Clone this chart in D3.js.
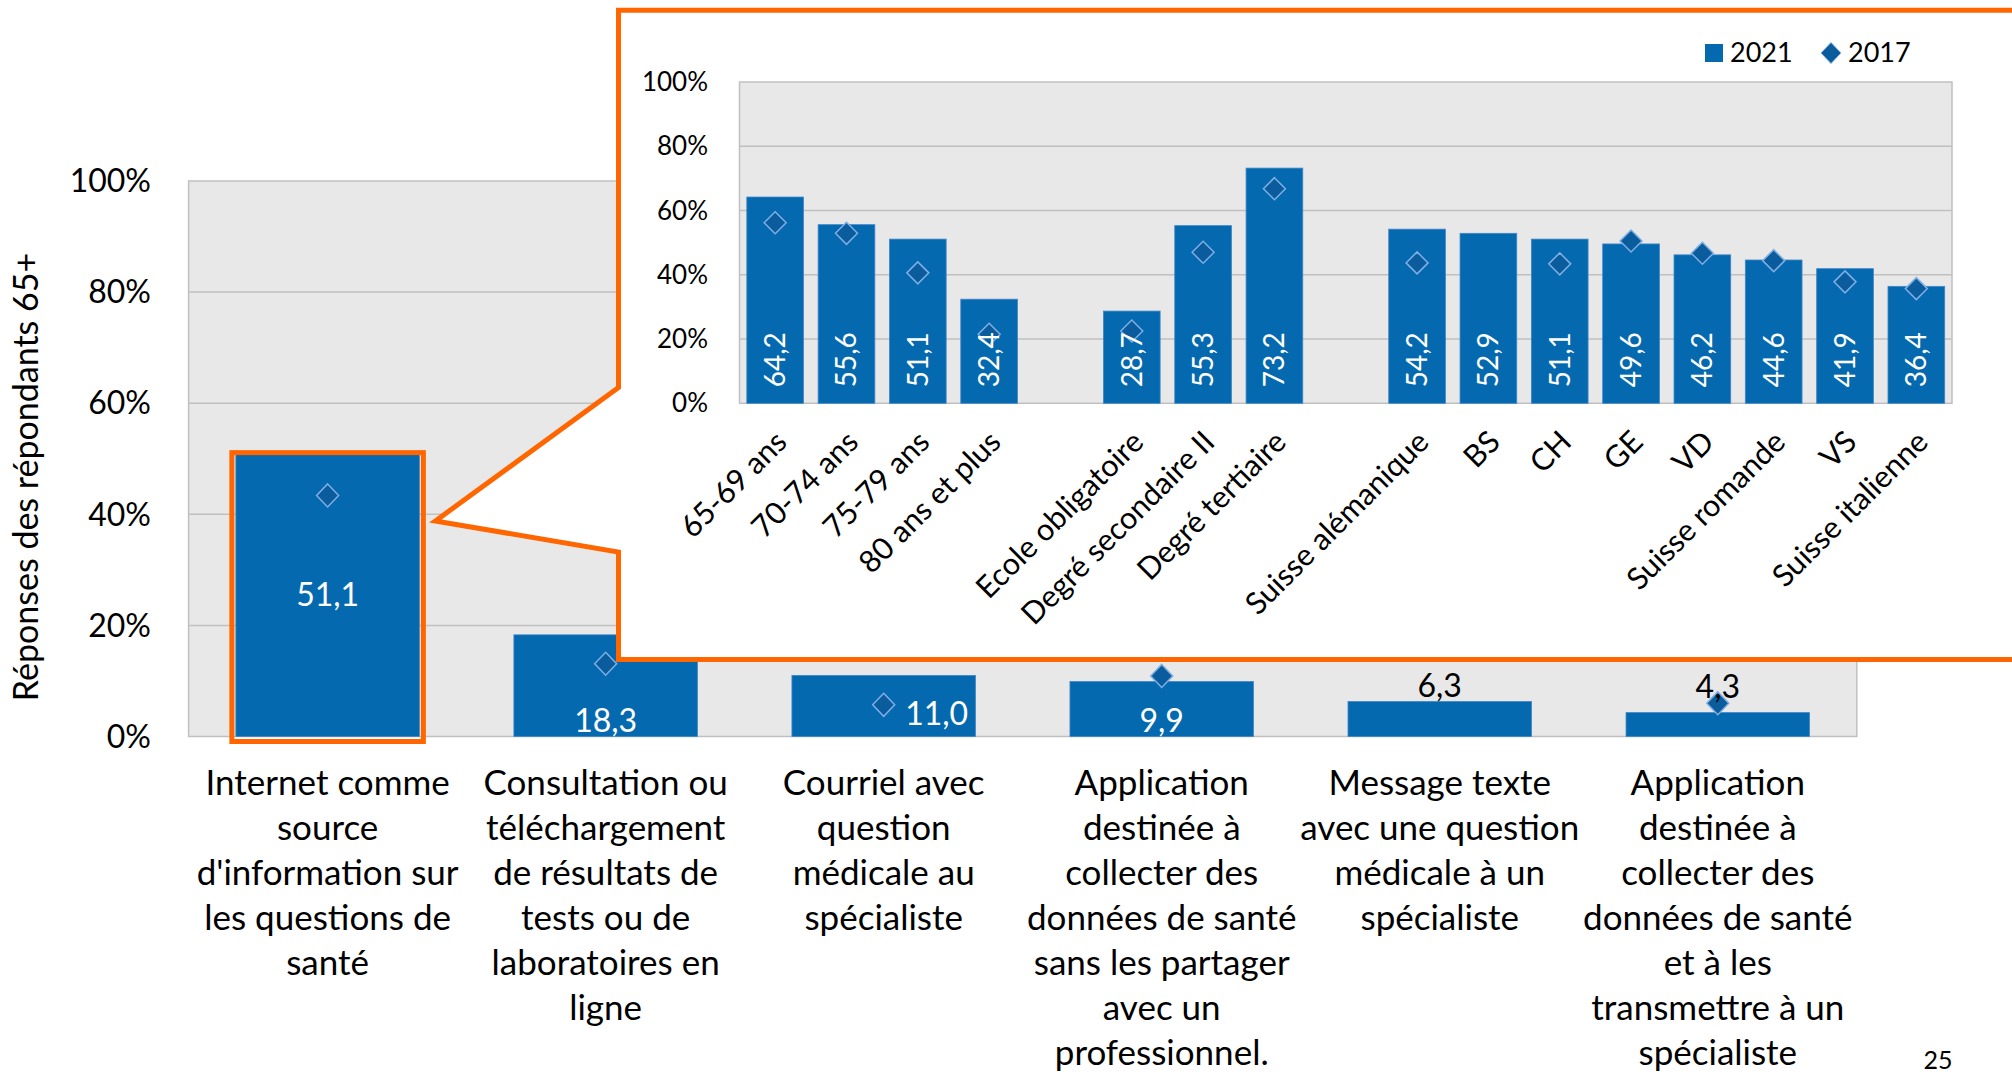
<!DOCTYPE html>
<html>
<head>
<meta charset="utf-8">
<script src="https://cdn.jsdelivr.net/npm/d3@7"></script>
<style>
  html, body { margin: 0; padding: 0; background: #ffffff; }
  svg { display: block; font-family: Lato, "Open Sans", sans-serif; }
</style>
</head>
<body>
<div id="chart"></div>
<script>
// main chart data (respondents 65+)
const mainCategories = [
  ["Internet comme", "source", "d'information sur", "les questions de", "santé"],
  ["Consultation ou", "téléchargement", "de résultats de", "tests ou de", "laboratoires en", "ligne"],
  ["Courriel avec", "question", "médicale au", "spécialiste"],
  ["Application", "destinée à", "collecter des", "données de santé", "sans les partager", "avec un", "professionnel."],
  ["Message texte", "avec une question", "médicale à un", "spécialiste"],
  ["Application", "destinée à", "collecter des", "données de santé", "et à les", "transmettre à un", "spécialiste"]
];
const mainValues2021 = [51.1, 18.3, 11.0, 9.9, 6.3, 4.3];
const mainValues2017 = [43.4, 13.1, 5.7, 10.9, null, 6.0];
const mainLabelPlacement = ["middle", "base", "right", "base", "above", "above"];
const percentTicks = [0, 20, 40, 60, 80, 100];

// inset chart data (Internet comme source d'information, by group)
const insetCategories = ["65-69 ans", "70-74 ans", "75-79 ans", "80 ans et plus",
  "Ecole obligatoire", "Degré secondaire II", "Degré tertiaire",
  "Suisse alémanique", "BS", "CH", "GE", "VD", "Suisse romande", "VS", "Suisse italienne"];
const insetValues2021 = [64.2, 55.6, 51.1, 32.4, 28.7, 55.3, 73.2, 54.2, 52.9, 51.1, 49.6, 46.2, 44.6, 41.9, 36.4];
const insetValues2017 = [56.2, 52.9, 40.6, 21.5, 22.5, 47.0, 66.8, 43.7, null, 43.4, 50.5, 46.7, 44.4, 37.8, 35.7];
const insetGroupStarts = [4, 7]; // an empty slot goes before these categories
const legendSeries = ["2021", "2017"];

const width = 2012, height = 1075;
const BLUE = "#0569b0", BAR_EDGE = "#3f86c8";
const DIAMOND = "#0b5c9c", DIAMOND_EDGE = "#7eaee4";
const ORANGE = "#ff6600", PLOT_BG = "#e8e8e8", GRID = "#c0c0c0";

const fmt = v => d3.format(".1f")(v).replace(".", ",");
const diamond = (w, h) => `M0,${-h}L${w},0L0,${h}L${-w},0Z`;

const svg = d3.select("#chart").append("svg")
  .attr("width", width)
  .attr("height", height);

// ---------- main chart ----------
const mx = d3.scaleBand().domain(d3.range(mainValues2021.length))
  .range([188.6, 1856.8]).paddingInner(0.34).paddingOuter(0.17);
const my = d3.scaleLinear().domain([0, 100]).range([736.5, 181]);

const main = svg.append("g");

main.append("rect")
  .attr("x", mx.range()[0]).attr("y", my(100))
  .attr("width", mx.range()[1] - mx.range()[0]).attr("height", my(0) - my(100))
  .attr("fill", PLOT_BG).attr("stroke", GRID).attr("stroke-width", 1.5);

main.append("g").selectAll("line")
  .data(percentTicks.slice(1, -1))
  .join("line")
  .attr("x1", mx.range()[0]).attr("x2", mx.range()[1])
  .attr("y1", d => my(d)).attr("y2", d => my(d))
  .attr("stroke", GRID).attr("stroke-width", 1.5);

// y axis labels
main.append("g").selectAll("text")
  .data(percentTicks)
  .join("text")
  .attr("x", 151).attr("y", d => my(d)).attr("dy", "0.35em")
  .attr("text-anchor", "end")
  .style("font-size", "32px")
  .text(d => d + "%");

main.append("text")
  .attr("transform", "translate(26,477) rotate(-90)")
  .attr("dy", "0.35em")
  .attr("text-anchor", "middle")
  .style("font-size", "34px")
  .text("Réponses des répondants 65+");

// bars
main.append("g").selectAll("rect")
  .data(mainValues2021)
  .join("rect")
  .attr("x", (d, i) => mx(i)).attr("width", mx.bandwidth())
  .attr("y", d => my(d)).attr("height", d => my(0) - my(d))
  .attr("fill", BLUE).attr("stroke", BAR_EDGE).attr("stroke-width", 0.8);

// 2017 markers
main.append("g").selectAll("path")
  .data(mainValues2017.map((v, i) => ({ v, i })).filter(d => d.v != null))
  .join("path")
  .attr("d", diamond(11, 11.5))
  .attr("transform", d => `translate(${mx(d.i) + mx.bandwidth() / 2},${my(d.v)})`)
  .attr("fill", DIAMOND).attr("stroke", DIAMOND_EDGE).attr("stroke-width", 1.5);

// value labels
main.append("g").selectAll("text")
  .data(mainValues2021)
  .join("text")
  .attr("x", (d, i) => {
    const cx = mx(i) + mx.bandwidth() / 2;
    return mainLabelPlacement[i] === "right" ? cx + 53 : cx;
  })
  .attr("y", (d, i) => {
    const p = mainLabelPlacement[i];
    if (p === "middle") return my(d / 2);
    if (p === "above") {
      const top = mainValues2017[i] != null ? Math.min(my(d), my(mainValues2017[i])) : my(d);
      return top - 16;
    }
    return my(0) - (p === "right" ? 23 : 16);
  })
  .attr("dy", "0.35em")
  .attr("text-anchor", "middle")
  .attr("fill", (d, i) => mainLabelPlacement[i] === "above" ? "#000" : "#fff")
  .style("font-size", "32px")
  .text(fmt);

// category labels (multi-line)
const catLabels = main.append("g").selectAll("text")
  .data(mainCategories)
  .join("text")
  .attr("text-anchor", "middle")
  .style("font-size", "35px");
catLabels.selectAll("tspan")
  .data((lines, i) => lines.map(l => ({ l, i })))
  .join("tspan")
  .attr("x", d => mx(d.i) + mx.bandwidth() / 2)
  .attr("y", (d, k) => 783 + k * 45)
  .attr("dy", "0.35em")
  .text(d => d.l);

// highlight of the first bar
main.append("rect")
  .attr("x", mx(0) - 4).attr("y", my(mainValues2021[0]))
  .attr("width", mx.bandwidth() + 8).attr("height", my(0) - my(mainValues2021[0]) + 5)
  .attr("fill", "none").attr("stroke", ORANGE).attr("stroke-width", 5);

// ---------- callout ----------
const box = { left: 618.5, top: 10.3, right: 2040, bottom: 659.6 };
const tip = [mx(0) + mx.bandwidth() + 16, 521];
svg.append("path")
  .attr("d", `M${box.left},${box.top}L${box.right},${box.top}L${box.right},${box.bottom}` +
    `L${box.left},${box.bottom}L${box.left},552L${tip[0]},${tip[1]}L${box.left},387.5Z`)
  .attr("fill", "#fff").attr("stroke", ORANGE).attr("stroke-width", 5)
  .attr("stroke-linejoin", "miter");

// ---------- inset chart ----------
const insetDomain = [];
insetCategories.forEach((c, i) => {
  if (insetGroupStarts.includes(i)) insetDomain.push("gap" + i);
  insetDomain.push(c);
});
const ix = d3.scaleBand().domain(insetDomain)
  .range([739.5, 1952]).paddingInner(0.205).paddingOuter(0.1025);
const iy = d3.scaleLinear().domain([0, 100]).range([403.3, 82]);
const icx = c => ix(c) + ix.bandwidth() / 2;

const inset = svg.append("g");

inset.append("rect")
  .attr("x", ix.range()[0]).attr("y", iy(100))
  .attr("width", ix.range()[1] - ix.range()[0]).attr("height", iy(0) - iy(100))
  .attr("fill", PLOT_BG).attr("stroke", GRID).attr("stroke-width", 1.5);

inset.append("g").selectAll("line")
  .data(percentTicks.slice(1, -1))
  .join("line")
  .attr("x1", ix.range()[0]).attr("x2", ix.range()[1])
  .attr("y1", d => iy(d)).attr("y2", d => iy(d))
  .attr("stroke", GRID).attr("stroke-width", 1.5);

inset.append("g").selectAll("text")
  .data(percentTicks)
  .join("text")
  .attr("x", 708).attr("y", d => iy(d)).attr("dy", "0.35em")
  .attr("text-anchor", "end")
  .style("font-size", "26px")
  .text(d => d + "%");

inset.append("g").selectAll("rect")
  .data(insetValues2021)
  .join("rect")
  .attr("x", (d, i) => ix(insetCategories[i])).attr("width", ix.bandwidth())
  .attr("y", d => iy(d)).attr("height", d => iy(0) - iy(d))
  .attr("fill", BLUE).attr("stroke", BAR_EDGE).attr("stroke-width", 0.8);

inset.append("g").selectAll("path")
  .data(insetValues2017.map((v, i) => ({ v, i })).filter(d => d.v != null))
  .join("path")
  .attr("d", diamond(11, 11))
  .attr("transform", d => `translate(${icx(insetCategories[d.i])},${iy(d.v)})`)
  .attr("fill", DIAMOND).attr("stroke", DIAMOND_EDGE).attr("stroke-width", 1.5);

inset.append("g").selectAll("text")
  .data(insetValues2021)
  .join("text")
  .attr("transform", (d, i) => `translate(${icx(insetCategories[i])},${iy(0) - 16}) rotate(-90)`)
  .attr("dy", "0.35em")
  .attr("fill", "#fff")
  .style("font-size", "28px")
  .text(fmt);

inset.append("g").selectAll("text")
  .data(insetCategories)
  .join("text")
  .attr("transform", d => `translate(${icx(d) + 6},${iy(0) + 33}) rotate(-45)`)
  .attr("dy", "0.35em")
  .attr("text-anchor", "end")
  .style("font-size", "30.5px")
  .text(d => d);

// legend
const legend = inset.append("g").attr("transform", "translate(1705,53)");
legend.append("rect")
  .attr("x", 0).attr("y", -9).attr("width", 18).attr("height", 18)
  .attr("fill", BLUE);
legend.append("text")
  .attr("x", 25).attr("dy", "0.35em")
  .style("font-size", "27px")
  .text(legendSeries[0]);
legend.append("path")
  .attr("d", diamond(10, 10.5))
  .attr("transform", "translate(126,0)")
  .attr("fill", DIAMOND).attr("stroke", DIAMOND_EDGE).attr("stroke-width", 1);
legend.append("text")
  .attr("x", 143).attr("dy", "0.35em")
  .style("font-size", "27px")
  .text(legendSeries[1]);

// page number
svg.append("text")
  .attr("x", 1938).attr("y", 1060).attr("dy", "0.35em")
  .attr("text-anchor", "middle")
  .style("font-size", "25px")
  .text("25");
</script>
</body>
</html>
